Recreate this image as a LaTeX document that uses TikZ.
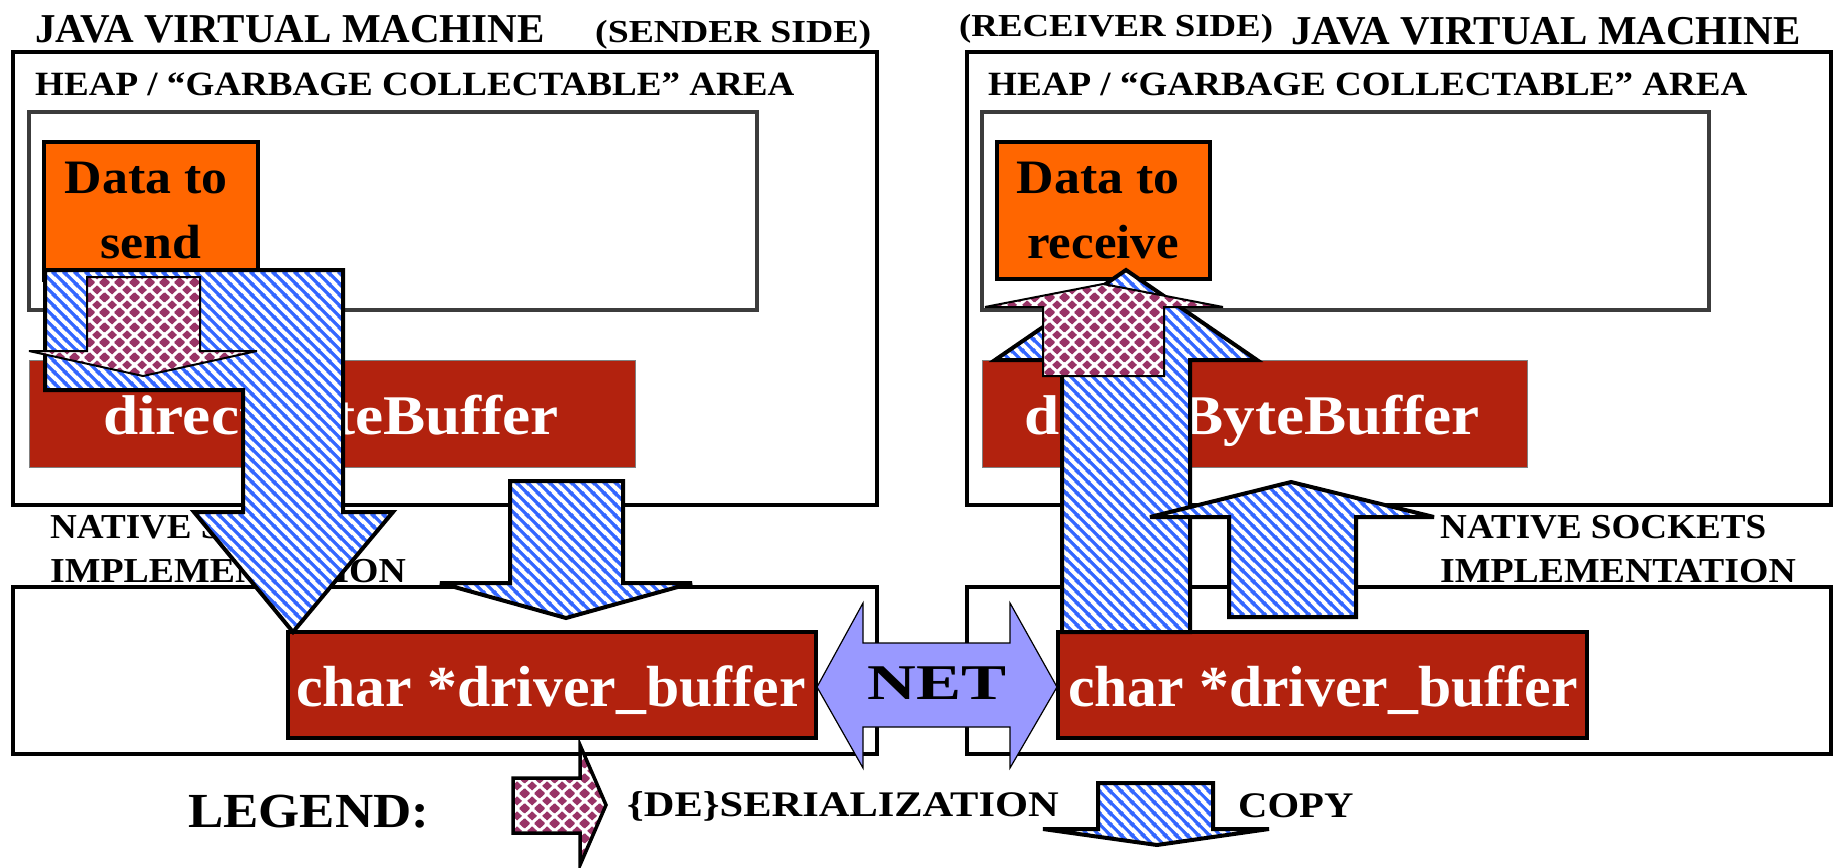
\documentclass[tikz,border=0pt]{standalone}
\usepackage{fontspec}
\setmainfont{Liberation Serif}
\usepackage{graphicx}
\usetikzlibrary{patterns}

% blue diagonal stripes for the copy arrows
\pgfdeclarepatternformonly{copystripes}{\pgfpointorigin}{\pgfqpoint{11pt}{11pt}}{\pgfqpoint{11pt}{11pt}}{%
  \pgfsetlinewidth{3.3pt}%
  \pgfpathmoveto{\pgfqpoint{-3pt}{3pt}}\pgfpathlineto{\pgfqpoint{3pt}{-3pt}}%
  \pgfpathmoveto{\pgfqpoint{-1pt}{12pt}}\pgfpathlineto{\pgfqpoint{12pt}{-1pt}}%
  \pgfpathmoveto{\pgfqpoint{8pt}{14pt}}\pgfpathlineto{\pgfqpoint{14pt}{8pt}}%
  \pgfusepath{stroke}%
}

% diamond grid for the (de)serialization arrows
\newcommand\serdiamond[2]{%
  \pgfpathmoveto{\pgfpoint{#1-5.2pt}{#2}}%
  \pgfpathlineto{\pgfpoint{#1}{#2+4.8pt}}%
  \pgfpathlineto{\pgfpoint{#1+5.2pt}{#2}}%
  \pgfpathlineto{\pgfpoint{#1}{#2-4.8pt}}%
  \pgfpathclose}
\pgfdeclarepatternformonly{serdiamonds}{\pgfpointorigin}{\pgfqpoint{15pt}{15pt}}{\pgfqpoint{15pt}{15pt}}{%
  \serdiamond{0pt}{0pt}\serdiamond{15pt}{0pt}\serdiamond{0pt}{15pt}\serdiamond{15pt}{15pt}\serdiamond{7.5pt}{7.5pt}%
  \pgfusepath{fill}%
}

\definecolor{heapgray}{RGB}{60,60,60}
\definecolor{dataorange}{RGB}{255,102,0}
\definecolor{bufred}{RGB}{178,34,14}
\definecolor{netblue}{RGB}{153,153,255}
\definecolor{stripeblue}{RGB}{51,102,255}
\definecolor{sermaroon}{RGB}{153,51,102}

\newcommand\wtext[2]{\scalebox{#1}[1]{#2}}

\begin{document}
\begin{tikzpicture}[x=1pt,y=-1pt,
  area/.style={anchor=north west, inner sep=0pt, outer sep=0pt},
  jvmbox/.style={area, draw=black, line width=4pt, fill=white},
  heapbox/.style={area, draw=heapgray, line width=4pt},
  databox/.style={area, draw=black, line width=4.5pt, fill=dataorange},
  dbbbox/.style={area, draw=gray, line width=1pt, fill=bufred},
  charbox/.style={area, draw=black, line width=4.5pt, fill=bufred},
  copyarrow/.style={draw=black, line width=4pt, line join=miter, miter limit=5,
    preaction={fill=white}, pattern=copystripes, pattern color=stripeblue},
  serarrow/.style={draw=black, line width=2pt, line join=miter, miter limit=6,
    preaction={fill=white}, pattern=serdiamonds, pattern color=sermaroon},
  netarrow/.style={draw=black, line width=1.2pt, fill=netblue},
  lbl/.style={anchor=base west, inner sep=0pt},
  title/.style={lbl, font=\fontsize{41}{48}\selectfont\bfseries},
  side/.style={lbl, font=\fontsize{32}{38}\selectfont\bfseries},
  heaplbl/.style={lbl, font=\fontsize{34}{40}\selectfont\bfseries},
  nativelbl/.style={lbl, font=\fontsize{35}{42}\selectfont\bfseries},
  datalbl/.style={anchor=base, inner sep=0pt, font=\fontsize{48}{56}\selectfont\bfseries},
  buflbl/.style={lbl, text=white, font=\fontsize{56}{62}\selectfont\bfseries},
  charlbl/.style={lbl, text=white, font=\fontsize{58}{64}\selectfont\bfseries},
  legendlbl/.style={lbl, font=\fontsize{36}{42}\selectfont\bfseries}]

\useasboundingbox (0,0) rectangle (1835,867);

% ---------- sender side ----------
\node[jvmbox, minimum width=864pt, minimum height=453pt] (jvmL) at (13,52) {};
\node[heapbox, minimum width=728pt, minimum height=198pt] (heapL) at (29,112) {};
\node[databox, minimum width=214pt, minimum height=138pt] (dataL) at (44,142) {};
\node[dbbbox, minimum width=606pt, minimum height=107pt] (dbbL) at (29,360) {};
\node[jvmbox, minimum width=864pt, minimum height=167pt] (nativeL) at (13,587) {};
\node[charbox, minimum width=528pt, minimum height=106pt] (charL) at (288,632) {};

% ---------- receiver side ----------
\node[jvmbox, minimum width=864pt, minimum height=453pt] (jvmR) at (967,52) {};
\node[heapbox, minimum width=727pt, minimum height=198pt] (heapR) at (982,112) {};
\node[databox, minimum width=213pt, minimum height=137pt] (dataR) at (997,142) {};
\node[dbbbox, minimum width=545pt, minimum height=107pt] (dbbR) at (982,360) {};
\node[jvmbox, minimum width=864pt, minimum height=167pt] (nativeR) at (967,587) {};
\node[charbox, minimum width=529pt, minimum height=106pt] (charR) at (1058,632) {};

% ---------- labels ----------
\node[title] (titleL) at (35,42) {\wtext{1.0}{JAVA VIRTUAL MACHINE}};
\node[side] (sideL) at (595,42) {\wtext{1.18}{(SENDER SIDE)}};
\node[side] (sideR) at (959,37) {\wtext{1.15}{(RECEIVER SIDE)}};
\node[title] (titleR) at (1291,45) {\wtext{1.0}{JAVA VIRTUAL MACHINE}};

\node[heaplbl] (heaplblL) at (35,95) {\wtext{1.09}{HEAP / “GARBAGE COLLECTABLE” AREA}};
\node[heaplbl] (heaplblR) at (988,95) {\wtext{1.09}{HEAP / “GARBAGE COLLECTABLE” AREA}};

\node[datalbl] (dataL1) at (146,193) {\wtext{1.08}{Data to}};
\node[datalbl] (dataL2) at (151,258) {\wtext{1.08}{send}};
\node[datalbl] (dataR1) at (1098,193) {\wtext{1.08}{Data to}};
\node[datalbl] (dataR2) at (1103,258) {\wtext{1.06}{receive}};

\node[buflbl] (dbblblL) at (103,434) {\wtext{1.13}{directByteBuffer}};
\node[buflbl] (dbblblR) at (1024,434) {\wtext{1.13}{directByteBuffer}};

\node[nativelbl] (natL1) at (50,538) {\wtext{1.06}{NATIVE SOCKETS}};
\node[nativelbl] (natL2) at (50,582) {\wtext{1.08}{IMPLEMENTATION}};
\node[nativelbl] (natR1) at (1440,538) {\wtext{1.06}{NATIVE SOCKETS}};
\node[nativelbl] (natR2) at (1440,582) {\wtext{1.08}{IMPLEMENTATION}};

\node[charlbl] (charlblL) at (296,706) {\wtext{1.03}{char *driver\_buffer}};
\node[charlbl] (charlblR) at (1068,706) {\wtext{1.03}{char *driver\_buffer}};

% ---------- sender arrows ----------
% bent copy arrow: heap data -> native buffer
\draw[copyarrow] (45,270) -- (343,270) -- (343,512) -- (393,512) -- (293,632)
  -- (194,512) -- (243,512) -- (243,390) -- (45,390) -- cycle;
% serialization into the direct buffer
\draw[serarrow] (87,277) -- (200,277) -- (200,351) -- (257,351) -- (143,376)
  -- (29,351) -- (87,351) -- cycle;
% copy from direct buffer to native buffer
\draw[copyarrow] (510,481) -- (623,481) -- (623,583) -- (692,583) -- (566,618)
  -- (440,583) -- (510,583) -- cycle;

% ---------- receiver arrows ----------
\draw[copyarrow] (1062,632) -- (1062,360) -- (995,360) -- (1126,270) -- (1257,360)
  -- (1190,360) -- (1190,632) -- cycle;
\draw[serarrow] (1043,376) -- (1043,307) -- (985,307) -- (1103,284) -- (1223,307)
  -- (1164,307) -- (1164,376) -- cycle;
\draw[copyarrow] (1229,617) -- (1229,517) -- (1150,517) -- (1291,482) -- (1434,517)
  -- (1356,517) -- (1356,617) -- cycle;

% ---------- network ----------
\draw[netarrow] (817,687) -- (863,603) -- (863,643) -- (1010,643) -- (1010,603)
  -- (1057,687) -- (1010,768) -- (1010,727) -- (863,727) -- (863,768) -- cycle;
\node[anchor=base, inner sep=0pt, font=\fontsize{50}{56}\selectfont\bfseries] (net) at (937,699) {\wtext{1.35}{NET}};

% ---------- legend ----------
\node[lbl, font=\fontsize{49}{56}\selectfont\bfseries] (legend) at (188,827) {\wtext{1.08}{LEGEND:}};
\draw[serarrow, line width=3.5pt] (513,778) -- (580,778) -- (580,745) -- (606,805) -- (580,865)
  -- (580,833) -- (513,833) -- cycle;
\node[legendlbl] (legser) at (627,816) {\wtext{1.18}{\{DE\}SERIALIZATION}};
\draw[copyarrow] (1098,783) -- (1213,783) -- (1213,829) -- (1269,829) -- (1157,845)
  -- (1043,829) -- (1098,829) -- cycle;
\node[legendlbl] (legcopy) at (1238,817) {\wtext{1.13}{COPY}};

\end{tikzpicture}
\end{document}
